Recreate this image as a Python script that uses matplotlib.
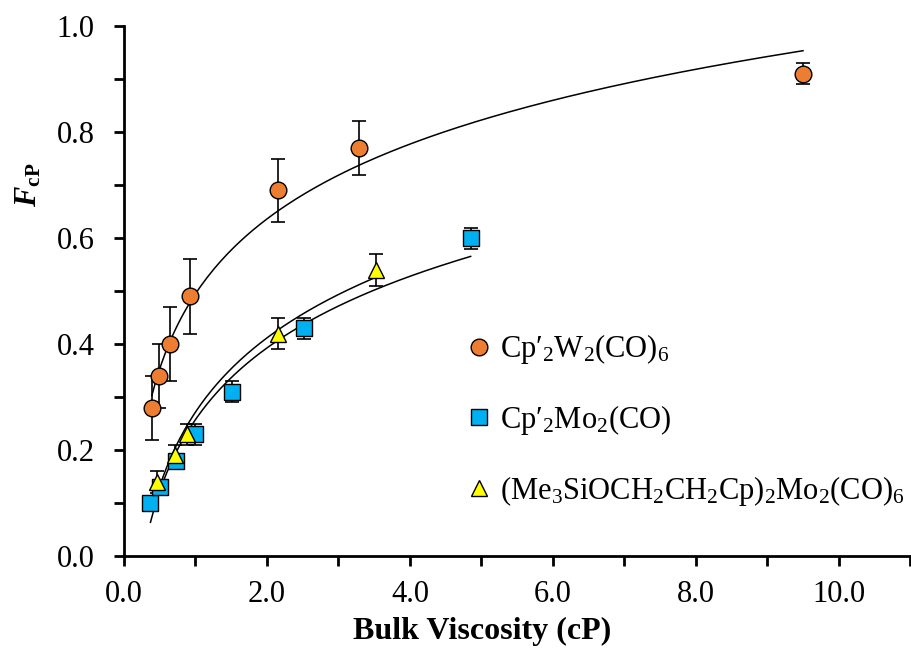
import numpy as np
import matplotlib
matplotlib.use("Agg")
import matplotlib.pyplot as plt
from matplotlib.ticker import MultipleLocator, FormatStrFormatter

plt.rcParams["font.family"] = ["Liberation Serif", "DejaVu Serif"]
plt.rcParams["mathtext.fontset"] = "custom"
plt.rcParams["mathtext.rm"] = "Liberation Serif"
plt.rcParams["mathtext.it"] = "Liberation Serif:italic"
plt.rcParams["mathtext.bf"] = "Liberation Serif:bold"
plt.rcParams["mathtext.bfit"] = "Liberation Serif:italic:bold"

# Cp'2W2(CO)6
w_x = [0.39, 0.49, 0.64, 0.93, 2.16, 3.29, 9.5]
w_y = [0.28, 0.34, 0.40, 0.49, 0.69, 0.77, 0.91]
w_err = [0.06, 0.06, 0.07, 0.07, 0.06, 0.05, 0.02]

# Cp'2Mo2(CO)
mo_x = [0.37, 0.50, 0.73, 0.99, 1.51, 2.52, 4.85]
mo_y = [0.10, 0.13, 0.18, 0.23, 0.31, 0.43, 0.60]
mo_err = [0.01, 0.01, 0.01, 0.02, 0.02, 0.02, 0.02]

# (Me3SiOCH2CH2Cp)2Mo2(CO)6
si_x = [0.46, 0.72, 0.88, 2.16, 3.52]
si_y = [0.14, 0.19, 0.23, 0.42, 0.54]
si_err = [0.02, 0.02, 0.02, 0.03, 0.03]

labels = [
    r"Cp′$_2$W$_2$(CO)$_6$",
    r"Cp′$_2$Mo$_2$(CO)",
    r"(Me$_3$SiOCH$_2$CH$_2$Cp)$_2$Mo$_2$(CO)$_6$",
]

fig = plt.figure(figsize=(9.12, 6.52), dpi=100)
ax = fig.add_axes([0.136, 0.147, 0.862, 0.813])

series = [
    (w_x, w_y, w_err, "o", "#ED7D31", 12),
    (mo_x, mo_y, mo_err, "s", "#00B0F0", 11),
    (si_x, si_y, si_err, "^", "#FFFF00", 12),
]

handles = []
for (x, y, err, mk, col, ms), lab in zip(series, labels):
    x = np.asarray(x)
    y = np.asarray(y)
    # logarithmic trendline fitted to the data
    a, b = np.polyfit(np.log(x), y, 1)
    xf = np.linspace(x.min(), x.max(), 200)
    ax.plot(xf, a * np.log(xf) + b, color="black", lw=1.1, zorder=2)
    ax.errorbar(x, y, yerr=err, fmt="none", ecolor="black", elinewidth=1.2,
                capsize=5, capthick=1.2, zorder=3)
    h, = ax.plot(x, y, ls="none", marker=mk, ms=ms, mfc=col, mec="black",
                 mew=1.0, zorder=4, label=lab)
    handles.append(h)

ax.set_xlim(0, 11)
ax.set_ylim(0, 1.0)
ax.xaxis.set_major_locator(MultipleLocator(2))
ax.xaxis.set_minor_locator(MultipleLocator(1))
ax.yaxis.set_major_locator(MultipleLocator(0.2))
ax.yaxis.set_minor_locator(MultipleLocator(0.1))
ax.xaxis.set_major_formatter(FormatStrFormatter("%.1f"))
ax.yaxis.set_major_formatter(FormatStrFormatter("%.1f"))

for side in ("top", "right"):
    ax.spines[side].set_visible(False)
for side in ("left", "bottom"):
    ax.spines[side].set_linewidth(2.0)
ax.tick_params(which="both", direction="out", length=7, width=2.0, labelsize=22)
ax.tick_params(axis="x", pad=10)
ax.tick_params(axis="y", pad=14)

ax.set_xlabel("Bulk Viscosity (cP)", fontsize=23, fontweight="bold")
ax.xaxis.set_label_coords(0.455, -0.115)
ax.set_ylabel(r"$\mathbfit{F}_{\mathbf{cP}}$", fontsize=22)
ax.yaxis.set_label_coords(-0.102, 0.70)

leg = ax.legend(handles=handles, loc="upper left", bbox_to_anchor=(0.42, 0.445),
                frameon=False, fontsize=22, handlelength=0.8, handletextpad=0.3,
                labelspacing=1.2, borderaxespad=0)
for h in leg.legend_handles:
    h.set_markersize(12)

fig.savefig("out.png", dpi=100)
